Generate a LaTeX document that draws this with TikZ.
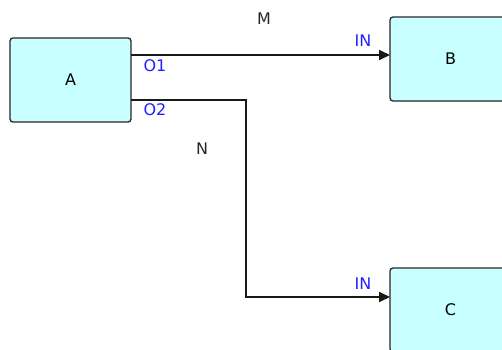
\documentclass[tikz,border=0pt]{standalone}
\usepackage{fontspec}
\setmainfont{DejaVu Sans}
\usetikzlibrary{arrows.meta}
\definecolor{boxfill}{HTML}{C8FFFF}
\definecolor{portblue}{HTML}{2020FF}
\tikzset{
  blk/.style={draw=black!85, line width=1.3pt, fill=boxfill, rounded corners=3pt, minimum width=121pt, minimum height=84pt, inner sep=0pt, font=\fontsize{16}{18}\selectfont},
  port/.style={text=portblue, font=\fontsize{16}{18}\selectfont, inner sep=0pt},
  lbl/.style={text=black!85, font=\fontsize{16}{18}\selectfont, inner sep=0pt},
  wire/.style={draw=black!90, line width=1.8pt},
  arr/.style={wire, -{Triangle[length=11pt,width=10pt]}}
}
\begin{document}
\begin{tikzpicture}[x=1pt,y=-1pt]
\useasboundingbox (0,0) rectangle (502,349);
\clip (0,0) rectangle (502,349);
\node[blk] (A) at (70.5,80) {A};
\node[blk] (B) at (450.5,59) {B};
\node[blk] (C) at (450.5,310) {C};
\coordinate (o1) at (131,55);
\coordinate (o2) at (131,100);
\coordinate (b1) at (390,55);
\coordinate (c1) at (390,297);
\coordinate (k1) at (246,100);
\coordinate (k2) at (246,297);
\draw[arr] (o1) -- (b1);
\draw[arr] (o2) -- (k1) -- (k2) -- (c1);
\node[port] (p1) at (155,66) {O1};
\node[port] (p2) at (155,110) {O2};
\node[port] (p3) at (363,41) {IN};
\node[port] (p4) at (363,284) {IN};
\node[lbl] (m) at (264,19) {M};
\node[lbl] (n) at (202,149) {N};
\end{tikzpicture}
\end{document}
